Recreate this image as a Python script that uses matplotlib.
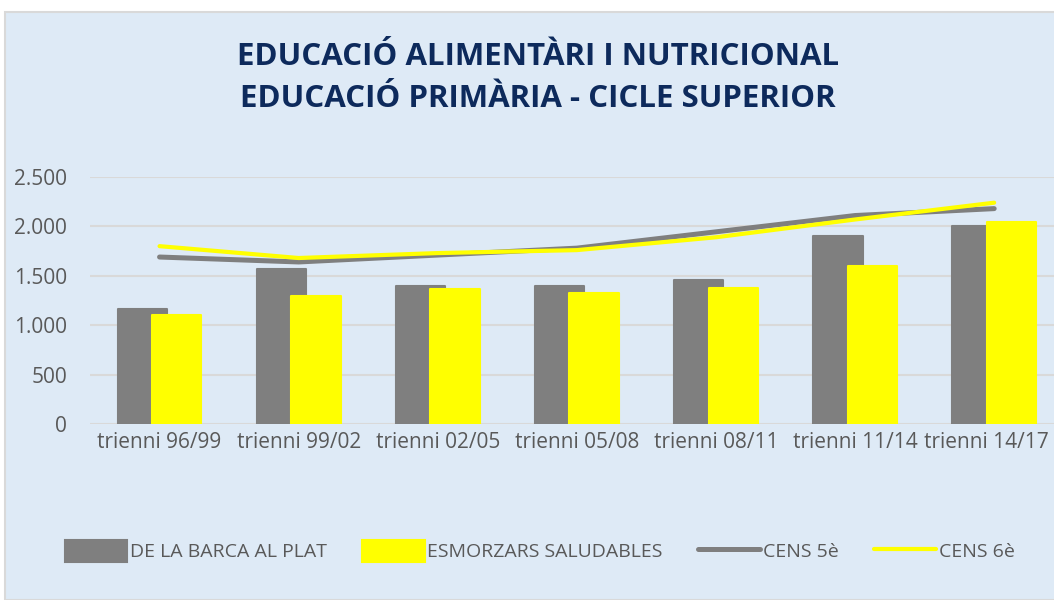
import matplotlib.pyplot as plt
from matplotlib.patches import Rectangle
from matplotlib.ticker import FuncFormatter
import matplotlib.transforms as mtransforms
import numpy as np

# dades llegides del gràfic
trienis = ['trienni 96/99', 'trienni 99/02', 'trienni 02/05', 'trienni 05/08',
           'trienni 08/11', 'trienni 11/14', 'trienni 14/17']
barca_plat = [1165, 1565, 1395, 1395, 1455, 1905, 2000]
esmorzars = [1105, 1295, 1365, 1325, 1375, 1595, 2045]
cens_5 = [1690, 1640, 1710, 1780, 1945, 2110, 2180]
cens_6 = [1800, 1680, 1730, 1760, 1890, 2070, 2240]

fons = '#DEEAF6'
gris = '#7F7F7F'
groc = '#FFFF00'
text_color = '#595959'

plt.rcParams['font.family'] = ['Open Sans', 'DejaVu Sans']

fig = plt.figure(figsize=(10.54, 6), dpi=100, facecolor='white')
fig.patches.append(Rectangle((5 / 1054, 0), 1, 1 - 12 / 600, transform=fig.transFigure,
                             facecolor=fons, edgecolor='#D9D9D9', lw=1.5, zorder=-10))

ax = fig.add_axes([90 / 1054, 1 - 424 / 600, 1 - 90 / 1054, (424 - 177) / 600])
ax.patch.set_alpha(0)

x = np.arange(len(trienis))
w = 0.355
b1 = ax.bar(x - 0.124, barca_plat, w, color=gris, ec=gris, lw=1.5, joinstyle='round',
            label='DE LA BARCA AL PLAT', zorder=2)
b2 = ax.bar(x + 0.124, esmorzars, w, color=groc, ec=groc, lw=1.5, joinstyle='round',
            label='ESMORZARS SALUDABLES', zorder=3)
l1, = ax.plot(x, cens_5, color=gris, lw=3.6, solid_capstyle='round', label='CENS 5è', zorder=4)
l2, = ax.plot(x, cens_6, color=groc, lw=3.0, solid_capstyle='round', label='CENS 6è', zorder=5)

ax.set_xlim(-0.5, 6.43)
ax.set_ylim(0, 2500)
ax.set_yticks(np.arange(0, 2501, 500))
ax.yaxis.set_major_formatter(FuncFormatter(lambda v, p: f'{int(v):,}'.replace(',', '.')))
ax.set_xticks(x)
ax.set_xticklabels(trienis)
ax.grid(axis='y', color='#D9D9D9', lw=1.5, zorder=1)
ax.set_axisbelow(True)
for s in ax.spines.values():
    s.set_visible(False)
ax.tick_params(axis='both', length=0, labelsize=15, labelcolor=text_color)
ax.tick_params(axis='x', pad=6)
ax.tick_params(axis='y', pad=16.5)

# l'última etiqueta toca la vora: la moc una mica a l'esquerra
last = ax.get_xticklabels()[-1]
last.set_transform(last.get_transform() + mtransforms.ScaledTranslation(-8 / 100, 0, fig.dpi_scale_trans))

fig.text(538 / 1054, 1 - 78 / 600,
         'EDUCACIÓ ALIMENTÀRI I NUTRICIONAL\nEDUCACIÓ PRIMÀRIA - CICLE SUPERIOR',
         ha='center', va='center', fontsize=22.5, fontweight='bold', color='#0D2A5C',
         linespacing=1.5)

fig.legend([b1, b2, l1, l2], ['DE LA BARCA AL PLAT', 'ESMORZARS SALUDABLES', 'CENS 5è', 'CENS 6è'],
           loc='center', bbox_to_anchor=(540 / 1054, 1 - 551 / 600), ncol=4, frameon=False,
           fontsize=14, labelcolor=text_color, handlelength=3.2, handleheight=1.4,
           handletextpad=0.15, columnspacing=1.8)

fig.savefig('out.png', dpi=100, facecolor=fig.get_facecolor())
